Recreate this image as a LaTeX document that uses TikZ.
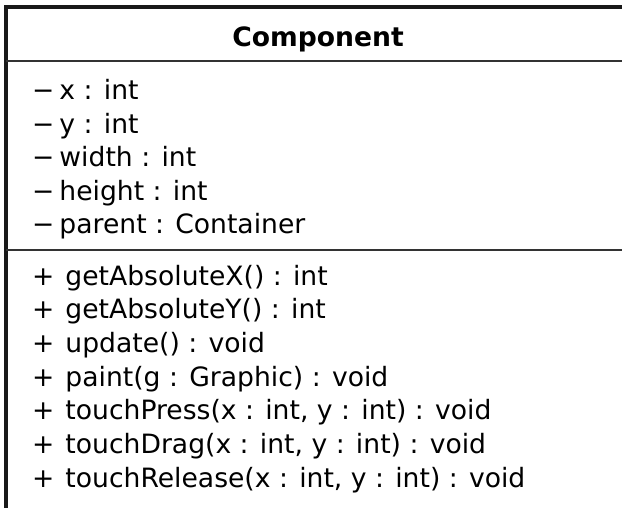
\documentclass[tikz,border=0pt]{standalone}
\usepackage{fontspec}
\setmainfont{DejaVu Sans}
\tikzset{
  member/.style={anchor=base west, inner sep=0pt, font=\fontsize{26.6}{30}\selectfont},
  classname/.style={anchor=base, inner sep=0pt, font=\fontsize{26.6}{30}\selectfont\bfseries},
  border/.style={line width=4pt, black!90},
  divider/.style={line width=2.4pt, black!80}
}
\newcommand{\priv}{\char"2212\hspace{5pt}}
\newcommand{\publ}{+\hspace{11pt}}
\begin{document}
\begin{tikzpicture}[x=1pt,y=-1pt]
\useasboundingbox[fill=white] (0,0) rectangle (622,508);
\draw[border] (6,508) -- (6,7) -- (622,7);
\draw[divider] (6,61) -- (622,61);
\draw[divider] (6,250) -- (622,250);

\node[classname] (name) at (318,47) {Component};

\node[member] (ax) at (32,100) {\priv x : int};
\node[member] (ay) at (32,133.5) {\priv y : int};
\node[member] (aw) at (32,167) {\priv width : int};
\node[member] (ah) at (32,200.5) {\priv height : int};
\node[member] (ap) at (32,234) {\priv parent : Container};

\node[member] (mx) at (32,285) {\publ getAbsoluteX() : int};
\node[member] (my) at (32,318.7) {\publ getAbsoluteY() : int};
\node[member] (mu) at (32,352.4) {\publ update() : void};
\node[member] (mp) at (32,386.1) {\publ paint(g : Graphic) : void};
\node[member] (mt) at (32,419.8) {\publ touchPress(x : int, y : int) : void};
\node[member] (md) at (32,453.5) {\publ touchDrag(x : int, y : int) : void};
\node[member] (mr) at (32,487.2) {\publ touchRelease(x : int, y : int) : void};
\end{tikzpicture}
\end{document}
